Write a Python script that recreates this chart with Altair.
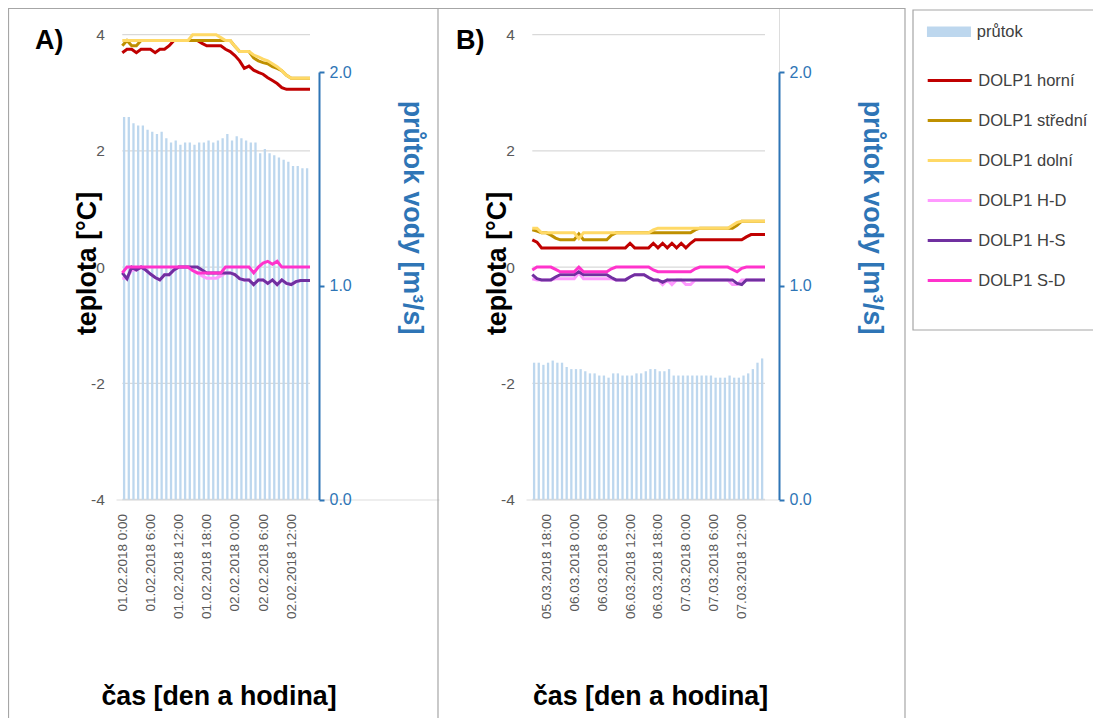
import altair as alt
import pandas as pd

# ---------------- data ----------------
SERIES = ["DOLP1 horní", "DOLP1 střední", "DOLP1 dolní", "DOLP1 H-D", "DOLP1 H-S", "DOLP1 S-D"]
COLORS = ["#C00000", "#BF9000", "#FFD966", "#FF99FF", "#7030A0", "#FF33CC"]
FLOW_NAME = ["průtok"]
FLOW_COLOR = ["#BDD7EE"]

TEMP_TICKS = [-4, -2, 0, 2, 4]
GRID_VALUES = [-2, 0, 2, 4]
BASE_VALUE = [-4]
FLOW_TICKS = [0, 1, 2]

A_TICK_HOURS = [0, 6, 12, 18, 24, 30, 36]
A_TICK_LABELS = ["01.02.2018 0:00", "01.02.2018 6:00", "01.02.2018 12:00", "01.02.2018 18:00",
                 "02.02.2018 0:00", "02.02.2018 6:00", "02.02.2018 12:00"]
B_TICK_HOURS = [3, 9, 15, 21, 27, 33, 39, 45]
B_TICK_LABELS = ["05.03.2018 18:00", "06.03.2018 0:00", "06.03.2018 6:00", "06.03.2018 12:00",
                 "06.03.2018 18:00", "07.03.2018 0:00", "07.03.2018 6:00", "07.03.2018 12:00"]

# panel A (hourly, 01.02.2018 0:00 ...)
A_FLOW = [1.79, 1.79, 1.76, 1.75, 1.75, 1.73, 1.72, 1.71, 1.72, 1.69,
          1.67, 1.68, 1.66, 1.67, 1.67, 1.66, 1.67, 1.67, 1.68, 1.67,
          1.68, 1.69, 1.71, 1.68, 1.70, 1.69, 1.68, 1.67, 1.67, 1.62,
          1.64, 1.62, 1.61, 1.60, 1.59, 1.58, 1.56, 1.56, 1.55, 1.55]
A_HORNI = [3.69, 3.75, 3.75, 3.69, 3.75, 3.75, 3.75, 3.69, 3.75, 3.75,
           3.81, 3.90, 3.90, 3.90, 3.90, 3.90, 3.90, 3.85, 3.81, 3.81,
           3.81, 3.81, 3.75, 3.71, 3.64, 3.55, 3.42, 3.46, 3.39, 3.35,
           3.32, 3.26, 3.21, 3.16, 3.09, 3.06, 3.06, 3.06, 3.06, 3.06, 3.06]
A_STREDNI = [3.81, 3.90, 3.81, 3.81, 3.90, 3.90, 3.90, 3.90, 3.90, 3.90,
             3.90, 3.90, 3.90, 3.90, 3.90, 3.90, 3.90, 3.90, 3.90, 3.90,
             3.90, 3.90, 3.90, 3.90, 3.80, 3.71, 3.71, 3.71, 3.60, 3.55,
             3.52, 3.50, 3.45, 3.42, 3.38, 3.30, 3.25, 3.25, 3.25, 3.25, 3.25]
A_DOLNI = [3.90, 3.90, 3.90, 3.90, 3.90, 3.90, 3.90, 3.90, 3.90, 3.90,
           3.90, 3.90, 3.90, 3.90, 3.90, 4.00, 4.00, 4.00, 4.00, 4.00,
           4.00, 3.95, 3.90, 3.90, 3.80, 3.71, 3.71, 3.71, 3.65, 3.62,
           3.58, 3.55, 3.50, 3.45, 3.38, 3.30, 3.25, 3.25, 3.25, 3.25, 3.25]
A_HD = [-0.19, -0.19, -0.05, -0.05, 0.00, -0.05, -0.12, -0.18, -0.22, -0.13,
        -0.13, -0.05, 0.00, 0.00, 0.00, -0.06, -0.10, -0.15, -0.19, -0.19,
        -0.19, -0.15, -0.10, -0.10, -0.13, -0.20, -0.22, -0.22, -0.30, -0.22,
        -0.22, -0.28, -0.22, -0.30, -0.22, -0.28, -0.30, -0.25, -0.23, -0.23, -0.23]
A_HS = [-0.10, -0.20, 0.00, -0.05, 0.00, -0.05, -0.12, -0.18, -0.22, -0.13,
        -0.13, -0.05, 0.00, 0.00, 0.00, 0.00, 0.00, -0.05, -0.10, -0.10,
        -0.10, -0.10, -0.10, -0.10, -0.13, -0.20, -0.22, -0.22, -0.30, -0.22,
        -0.22, -0.28, -0.22, -0.30, -0.22, -0.28, -0.30, -0.25, -0.23, -0.23, -0.23]
A_SD = [-0.10, 0.00, 0.00, 0.00, 0.00, 0.00, 0.00, 0.00, 0.00, 0.00,
        0.00, 0.00, 0.00, 0.00, 0.00, -0.06, -0.10, -0.10, -0.10, -0.10,
        -0.10, -0.10, 0.00, 0.00, 0.00, 0.00, 0.00, 0.00, -0.10, 0.00,
        0.07, 0.10, 0.05, 0.10, 0.00, 0.00, 0.00, 0.00, 0.00, 0.00, 0.00]

# panel B (hourly, 05.03.2018 15:00 ...)
B_FLOW = [0.64, 0.64, 0.63, 0.64, 0.65, 0.64, 0.64, 0.62, 0.61, 0.61,
          0.61, 0.60, 0.59, 0.59, 0.58, 0.58, 0.57, 0.59, 0.59, 0.58,
          0.58, 0.58, 0.59, 0.59, 0.60, 0.61, 0.61, 0.60, 0.60, 0.61,
          0.58, 0.58, 0.58, 0.58, 0.58, 0.58, 0.58, 0.58, 0.58, 0.57,
          0.57, 0.57, 0.58, 0.57, 0.57, 0.58, 0.59, 0.61, 0.64, 0.66]
B_HORNI = [0.47, 0.43, 0.33, 0.33, 0.33, 0.33, 0.33, 0.33, 0.33, 0.33,
           0.33, 0.33, 0.33, 0.33, 0.33, 0.33, 0.33, 0.33, 0.33, 0.33,
           0.33, 0.41, 0.33, 0.33, 0.33, 0.33, 0.41, 0.33, 0.41, 0.33,
           0.41, 0.33, 0.41, 0.33, 0.41, 0.47, 0.47, 0.47, 0.47, 0.47,
           0.47, 0.47, 0.47, 0.47, 0.47, 0.47, 0.52, 0.56, 0.56, 0.56, 0.56]
B_STREDNI = [0.64, 0.62, 0.59, 0.59, 0.55, 0.50, 0.47, 0.47, 0.47, 0.47,
             0.57, 0.47, 0.47, 0.47, 0.47, 0.47, 0.47, 0.55, 0.59, 0.59,
             0.59, 0.59, 0.59, 0.59, 0.59, 0.59, 0.59, 0.59, 0.59, 0.59,
             0.59, 0.59, 0.59, 0.59, 0.59, 0.64, 0.67, 0.67, 0.67, 0.67,
             0.67, 0.67, 0.67, 0.67, 0.72, 0.79, 0.79, 0.79, 0.79, 0.79, 0.79]
B_DOLNI = [0.67, 0.67, 0.59, 0.59, 0.59, 0.59, 0.59, 0.59, 0.59, 0.59,
           0.49, 0.59, 0.59, 0.59, 0.59, 0.59, 0.59, 0.59, 0.59, 0.59,
           0.59, 0.59, 0.59, 0.59, 0.59, 0.59, 0.64, 0.67, 0.67, 0.67,
           0.67, 0.67, 0.67, 0.67, 0.67, 0.67, 0.67, 0.67, 0.67, 0.67,
           0.67, 0.67, 0.67, 0.72, 0.77, 0.79, 0.79, 0.79, 0.79, 0.79, 0.79]
B_HD = [-0.20, -0.22, -0.22, -0.22, -0.22, -0.20, -0.20, -0.20, -0.20, -0.20,
        -0.10, -0.20, -0.20, -0.20, -0.20, -0.20, -0.20, -0.20, -0.22, -0.22,
        -0.22, -0.17, -0.13, -0.13, -0.13, -0.18, -0.22, -0.22, -0.30, -0.22,
        -0.30, -0.22, -0.22, -0.30, -0.30, -0.22, -0.22, -0.22, -0.22, -0.22,
        -0.22, -0.22, -0.22, -0.30, -0.30, -0.22, -0.22, -0.22, -0.22, -0.22, -0.22]
B_HS = [-0.13, -0.20, -0.22, -0.22, -0.22, -0.17, -0.13, -0.13, -0.13, -0.13,
        -0.08, -0.13, -0.13, -0.13, -0.13, -0.13, -0.13, -0.18, -0.22, -0.22,
        -0.22, -0.17, -0.13, -0.13, -0.13, -0.18, -0.22, -0.22, -0.26, -0.22,
        -0.22, -0.22, -0.22, -0.22, -0.22, -0.22, -0.22, -0.22, -0.22, -0.22,
        -0.22, -0.22, -0.22, -0.22, -0.28, -0.30, -0.22, -0.22, -0.22, -0.22, -0.22]
B_SD = [-0.05, 0.00, 0.00, 0.00, 0.00, -0.04, -0.08, -0.08, -0.08, -0.08,
        0.00, -0.08, -0.08, -0.08, -0.08, -0.08, -0.08, -0.03, 0.00, 0.00,
        0.00, 0.00, 0.00, 0.00, 0.00, 0.00, -0.05, -0.08, -0.08, -0.08,
        -0.08, -0.08, -0.08, -0.08, -0.08, -0.03, 0.00, 0.00, 0.00, 0.00,
        0.00, 0.00, 0.00, -0.04, -0.08, -0.02, 0.00, 0.00, 0.00, 0.00, 0.00]

PANEL_LABELS = ["A)", "B)"]
AXIS_TITLE_X = "čas [den a hodina]"
AXIS_TITLE_T = "teplota [°C]"
AXIS_TITLE_Q = "průtok vody [m³/s]"

# ---------------- styling ----------------
FONT = "Liberation Sans"
GRAY = "#595959"
BLUE = "#2E75B6"
GRID = "#D9D9D9"
FRAME = "#A6A6A6"

CH_W = 771       # right edge of panel B flow axis
CH_H = 491.5     # bottom of plot areas
TITLE_SIZE = 26.8


def lines_df(series_values):
    rows = []
    for name, vals in zip(SERIES, series_values):
        for h, v in enumerate(vals):
            rows.append({"hour": h, "value": v, "series": name})
    return pd.DataFrame(rows)


def bars_df(vals):
    return pd.DataFrame({"hour": list(range(len(vals))), "flow": vals, "name": FLOW_NAME[0]})


temp_scale = alt.Scale(domain=[-4, 4], range=[CH_H, 26.7], nice=False, zero=False)
flow_scale = alt.Scale(domain=[0, 2], range=[CH_H, 64], nice=False, zero=True)
stroke_scale = alt.Scale(domain=SERIES, range=COLORS)
fill_scale = alt.Scale(domain=FLOW_NAME, range=FLOW_COLOR)


def panel(series_values, flow, tick_hours, tick_labels, x_range, left_off, right_off, title_x):
    n = len(series_values[0]) - 1
    xs = alt.Scale(domain=[0, n], range=x_range, nice=False, zero=False)
    lab_arr = "[" + ",".join("'%s'" % t for t in tick_labels) + "]"
    hr_arr = "[" + ",".join(str(h) for h in tick_hours) + "]"
    xaxis = alt.Axis(orient="bottom", values=tick_hours,
                     labelExpr="%s[indexof(%s, datum.value)]" % (lab_arr, hr_arr),
                     labelAngle=-90, labelFont=FONT, labelFontSize=13.5, labelColor=GRAY,
                     labelPadding=14, ticks=False, grid=False, domain=False,
                     title=AXIS_TITLE_X, titleFont=FONT, titleFontSize=TITLE_SIZE, titleFontWeight="bold",
                     titleColor="black", titleX=title_x, titleY=197, titleAlign="center",
                     titleBaseline="middle", labelOverlap=False, labelBound=False)

    gdf = pd.DataFrame({"g": GRID_VALUES + BASE_VALUE, "start": 0, "end": n})
    grid = alt.Chart(gdf).mark_rule(color=GRID, strokeWidth=1.3).encode(
        x=alt.X("start:Q", scale=xs, axis=xaxis),
        x2=alt.X2("end:Q"),
        y=alt.Y("g:Q", scale=temp_scale, axis=None),
    )
    bars = alt.Chart(bars_df(flow)).mark_bar(width=2.3, xOffset=1.8, orient="vertical").encode(
        x=alt.X("hour:Q", scale=xs, axis=xaxis),
        y=alt.Y("flow:Q", scale=flow_scale,
                axis=alt.Axis(orient="right", offset=right_off, values=FLOW_TICKS, format=".1f",
                              labelFont=FONT, labelFontSize=16, labelColor=BLUE, labelPadding=5,
                              ticks=True, domain=True, zindex=1,
                              tickColor=BLUE, tickSize=5, tickWidth=2, domainColor=BLUE, domainWidth=2,
                              grid=False, title=AXIS_TITLE_Q, titleFont=FONT, titleFontSize=TITLE_SIZE,
                              titleFontWeight="bold", titleColor=BLUE, titleAngle=90,
                              titleX=92, titleY=209, titleAlign="center", titleBaseline="middle")),
        fill=alt.Fill("name:N", scale=fill_scale,
                      legend=alt.Legend(orient="none", legendX=932.7, legendY=15.5, title=None,
                                        symbolType="M-3,-0.7H3V0.7H-3Z", symbolSize=215,
                                        labelFont=FONT, labelFontSize=16.5, labelColor="#404040",
                                        labelOffset=19.6, symbolStrokeWidth=0)),
    )
    lines = alt.Chart(lines_df(series_values)).mark_line(strokeWidth=3).encode(
        x=alt.X("hour:Q", scale=xs, axis=xaxis),
        y=alt.Y("value:Q", scale=temp_scale,
                axis=alt.Axis(orient="left", offset=left_off, values=TEMP_TICKS, zindex=1,
                              labelExpr="'' + datum.value", labelFont=FONT, labelFontSize=15.5,
                              labelColor=GRAY, labelPadding=13, ticks=False, domain=False, grid=False,
                              title=AXIS_TITLE_T, titleFont=FONT, titleFontSize=TITLE_SIZE,
                              titleFontWeight="bold", titleColor="black", titleAngle=-90,
                              titleX=-30, titleY=255, titleAlign="center", titleBaseline="middle")),
        stroke=alt.Stroke("series:N", scale=stroke_scale, sort=SERIES,
                          legend=alt.Legend(orient="none", legendX=932.7, legendY=63.5, title=None,
                                            symbolType="M-3,0H3", symbolSize=215, symbolStrokeWidth=3,
                                            labelFont=FONT, labelFontSize=16.5, labelColor="#404040",
                                            labelOffset=19.6, rowPadding=22)),
    )
    return alt.layer(grid, bars, lines).resolve_scale(y="independent")


panelA = panel([A_HORNI, A_STREDNI, A_DOLNI, A_HD, A_HS, A_SD], A_FLOW, A_TICK_HOURS, A_TICK_LABELS,
               [109.3, 307], -109.3, 311 - CH_W, 210.5)
panelB = panel([B_HORNI, B_STREDNI, B_DOLNI, B_HD, B_HS, B_SD], B_FLOW, B_TICK_HOURS, B_TICK_LABELS,
               [519.3, 762], -519.3, 0, 642)

one = alt.Data(values=[{}])
labelA = alt.Chart(one).mark_text(align="left", baseline="middle", font=FONT, fontSize=27,
                                  fontWeight="bold", color="black").encode(
    x=alt.value(27), y=alt.value(33), text=alt.value(PANEL_LABELS[0]))
labelB = alt.Chart(one).mark_text(align="left", baseline="middle", font=FONT, fontSize=27,
                                  fontWeight="bold", color="black").encode(
    x=alt.value(448), y=alt.value(33), text=alt.value(PANEL_LABELS[1]))

div1 = alt.Chart(one).mark_rule(color=FRAME, strokeWidth=1.2).encode(
    x=alt.value(430), y=alt.value(0), y2=alt.value(718))
div2 = alt.Chart(one).mark_rule(color=FRAME, strokeWidth=1.2).encode(
    x=alt.value(897), y=alt.value(0), y2=alt.value(718))
top_line = alt.Chart(one).mark_rule(color=FRAME, strokeWidth=1.2).encode(
    x=alt.value(0), x2=alt.value(897), y=alt.value(0.5), y2=alt.value(0.5))
left_line = alt.Chart(one).mark_rule(color=FRAME, strokeWidth=1.2).encode(
    x=alt.value(0.5), x2=alt.value(0.5), y=alt.value(0), y2=alt.value(718))
legend_box = alt.Chart(one).mark_rect(fillOpacity=0, stroke=FRAME, strokeWidth=1.2).encode(
    x=alt.value(905), x2=alt.value(1089), y=alt.value(2), y2=alt.value(322))
# white masks left of each plot area's baseline
maskA = alt.Chart(one).mark_rule(color="white", strokeWidth=4).encode(
    x=alt.value(1.5), x2=alt.value(108.5), y=alt.value(CH_H), y2=alt.value(CH_H))
maskB = alt.Chart(one).mark_rule(color="white", strokeWidth=4).encode(
    x=alt.value(431.5), x2=alt.value(518.5), y=alt.value(CH_H), y2=alt.value(CH_H))

chart = alt.layer(panelA, panelB, labelA, labelB, div1, div2, top_line, left_line, legend_box,
                  maskA, maskB).resolve_scale(
    x="independent", y="independent"
).properties(
    width=CH_W, height=CH_H,
    autosize=alt.AutoSizeParams(type="none"),
    padding={"left": 0, "top": 0, "right": 1085 - CH_W, "bottom": 710 - CH_H},
).configure_view(strokeWidth=0).configure_axisX(domain=False, grid=False, ticks=False).configure_axisY(
    grid=False
).configure(background="white")

chart.save("out.html", embed_options={"renderer": "svg", "actions": False})
